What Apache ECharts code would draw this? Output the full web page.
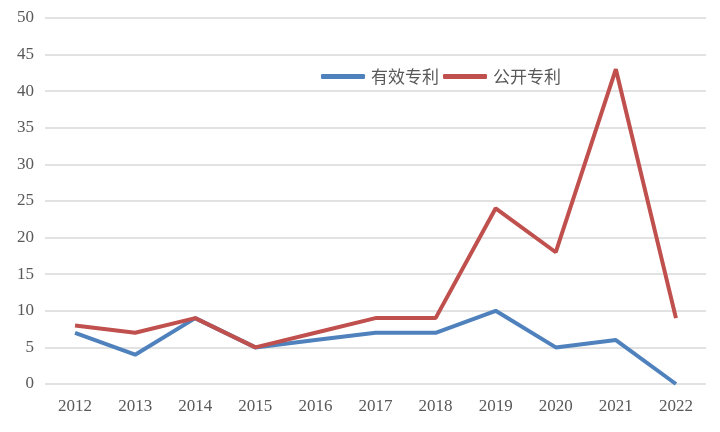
<!DOCTYPE html>
<html><head><meta charset="utf-8">
<script src="https://cdn.jsdelivr.net/npm/echarts@6/dist/echarts.min.js"></script>
<style>html,body{margin:0;padding:0;background:#fff}#c{width:720px;height:432px}</style>
</head><body><div id="c"></div>
<script>
const categories = ['2012','2013','2014','2015','2016','2017','2018','2019','2020','2021','2022'];
const validPatents = [7,4,9,5,6,7,7,10,5,6,0];
const publicPatents = [8,7,9,5,7,9,9,24,18,43,9];
const seriesNames = ['有效专利','公开专利'];
const chart = echarts.init(document.getElementById('c'));
chart.setOption({
  animation:false,
  backgroundColor:'#fff',
  grid:{left:45,right:14,top:18,bottom:48,containLabel:false},
  legend:{
    left:316, top:63,
    itemWidth:44, itemHeight:5, itemGap:4,
    icon:'roundRect',
    textStyle:{fontFamily:'Noto Sans CJK SC',fontSize:17,color:'#595959',padding:[0,0,0,1]},
    data:seriesNames
  },
  xAxis:{
    type:'category', data:categories, boundaryGap:true,
    axisLine:{show:false}, axisTick:{show:false},
    axisLabel:{fontFamily:'Liberation Serif',fontSize:17,color:'#595959',margin:14}
  },
  yAxis:{
    type:'value', min:0, max:50, interval:5,
    axisLine:{show:false}, axisTick:{show:false},
    axisLabel:{fontFamily:'Liberation Serif',fontSize:17,color:'#595959',margin:11},
    splitLine:{lineStyle:{color:'#d9d9d9',width:1.5}}
  },
  series:[
    {name:seriesNames[0],type:'line',data:validPatents,symbol:'none',color:'#4F81BD',lineStyle:{width:4,color:'#4F81BD'}},
    {name:seriesNames[1],type:'line',data:publicPatents,symbol:'none',color:'#C0504D',lineStyle:{width:4,color:'#C0504D'}}
  ]
});
</script></body></html>
